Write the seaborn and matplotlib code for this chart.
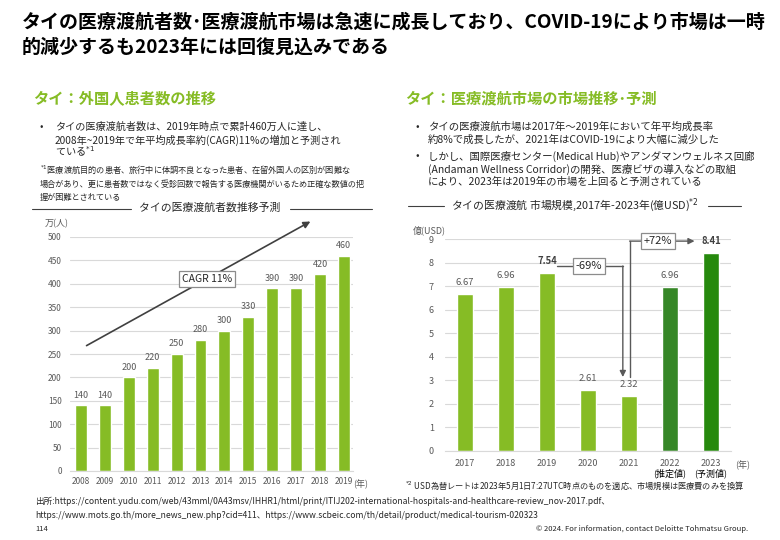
import numpy as np
import matplotlib.pyplot as plt
from matplotlib.lines import Line2D
import seaborn as sns

# data: left chart (foreign patients, 万人)
patient_years = ['2008', '2009', '2010', '2011', '2012', '2013',
                 '2014', '2015', '2016', '2017', '2018', '2019']
patient_vals = [140, 140, 200, 220, 250, 280, 300, 330, 390, 390, 420, 460]

# data: right chart (market size, 億USD)
market_years = ['2017', '2018', '2019', '2020', '2021', '2022', '2023']
market_notes = ['', '', '', '', '', '(推定値)', '(予測値)']
market_vals = [6.67, 6.96, 7.54, 2.61, 2.32, 6.96, 8.41]
market_colors = ['#86BC25', '#86BC25', '#86BC25', '#86BC25', '#86BC25',
                 '#368727', '#26890D']

sns.set_style('white')
plt.rcParams['font.family'] = ['Noto Sans CJK JP', 'DejaVu Sans']

W, H = 780, 540
fig = plt.figure(figsize=(7.8, 5.4), dpi=100)

def fx(px):
    return px / W

def fy(py):
    return 1 - py / H

def ftext(px, py, s, **kw):
    kw.setdefault('va', 'center')
    fig.text(fx(px), fy(py), s, **kw)

def hline(x0, x1, py, color='#404040', lw=0.8):
    fig.add_artist(Line2D([fx(x0), fx(x1)], [fy(py), fy(py)],
                          color=color, lw=lw))

GREEN = '#86BC25'
GRAY = '#595959'

# ---- headline ----
ftext(22, 22, 'タイの医療渡航者数･医療渡航市場は急速に成長しており、COVID-19により市場は一時',
      fontsize=13.7, fontweight='bold', color='black')
ftext(22, 47, '的減少するも2023年には回復見込みである',
      fontsize=13.7, fontweight='bold', color='black')

# ---- section headings ----
ftext(33, 98, 'タイ：外国人患者数の推移', fontsize=11, fontweight='bold', color=GREEN)
ftext(405, 98, 'タイ：医療渡航市場の市場推移･予測', fontsize=11, fontweight='bold', color=GREEN)

# ---- left bullets ----
ftext(40, 127, '•', fontsize=7.3)
ftext(55, 127, 'タイの医療渡航者数は、2019年時点で累計460万人に達し、', fontsize=7.3)
ftext(55, 140, '2008年~2019年で年平均成長率約(CAGR)11%の増加と予測され', fontsize=7.3)
ftext(55, 152, 'ている$^{*1}$', fontsize=7.3)
ftext(40, 170, '$^{*1}$医療渡航目的の患者、旅行中に体調不良となった患者、在留外国人の区別が困難な', fontsize=5.9)
ftext(40, 184, '場合があり、更に患者数ではなく受診回数で報告する医療機関がいるため正確な数値の把', fontsize=5.9)
ftext(40, 197, '握が困難とされている', fontsize=5.9)

ftext(210, 208, 'タイの医療渡航者数推移予測', fontsize=7.8, ha='center')
hline(32, 131, 209)
hline(290, 372, 209)

# ---- right bullets ----
ftext(415, 127, '•', fontsize=7.5)
ftext(428, 127, 'タイの医療渡航市場は2017年～2019年において年平均成長率', fontsize=7.5)
ftext(428, 140, '約8%で成長したが、2021年はCOVID-19により大幅に減少した', fontsize=7.5)
ftext(415, 156, '•', fontsize=7.5)
ftext(428, 156, 'しかし、国際医療センター(Medical Hub)やアンダマンウェルネス回廊', fontsize=7.5)
ftext(428, 169, '(Andaman Wellness Corridor)の開発、医療ビザの導入などの取組', fontsize=7.5)
ftext(428, 182, 'により、2023年は2019年の市場を上回ると予測されている', fontsize=7.5)

ftext(575, 205, 'タイの医療渡航 市場規模,2017年-2023年(億USD)$^{*2}$', fontsize=7.8, ha='center')
hline(408, 444, 206)
hline(708, 741, 206)

# ---- left chart ----
axL = fig.add_axes([fx(70), fy(471), fx(353) - fx(70), fy(237) - fy(471)])
sns.barplot(x=patient_years, y=patient_vals, color=GREEN, width=0.5,
            saturation=1, ax=axL)
axL.set_ylim(0, 500)
axL.set_xlim(-0.46, 11.38)
axL.set_yticks(np.arange(0, 501, 50))
axL.yaxis.grid(True, color='#d9d9d9', lw=0.8)
axL.set_axisbelow(True)
for s in ['top', 'right', 'left']:
    axL.spines[s].set_visible(False)
axL.spines['bottom'].set_color('#d9d9d9')
axL.tick_params(axis='both', length=0, labelsize=6, labelcolor=GRAY, pad=4)
axL.tick_params(axis='y', pad=6)
axL.bar_label(axL.containers[0], fontsize=6.5, color=GRAY, padding=4)
axL.set_xlabel('')
axL.set_ylabel('')
axL.annotate('', xy=(9.7, 536), xytext=(0.13, 265), annotation_clip=False,
             arrowprops=dict(arrowstyle='-|>', color='#404040', lw=1.2,
                             mutation_scale=10))
axL.text(5.27, 410, 'CAGR 11%', fontsize=7.5, ha='center', va='center',
         bbox=dict(boxstyle='square,pad=0.3', fc='white', ec='#8c8c8c', lw=0.9))
ftext(45, 224, '万(人)', fontsize=6.5, color=GRAY)
ftext(353, 484, '(年)', fontsize=6.5, color=GRAY)

# ---- right chart ----
axR = fig.add_axes([fx(445), fy(451), fx(731) - fx(445), fy(239) - fy(451)])
sns.barplot(x=market_years, y=market_vals, hue=market_years,
            palette=market_colors, legend=False, width=0.39,
            saturation=1, ax=axR)
axR.set_ylim(0, 9)
axR.set_xlim(-0.49, 6.49)
axR.set_yticks(np.arange(0, 10, 1))
axR.yaxis.grid(True, color='#d9d9d9', lw=0.8)
axR.set_axisbelow(True)
for s in ['top', 'right', 'left']:
    axR.spines[s].set_visible(False)
axR.spines['bottom'].set_color('#d9d9d9')
axR.tick_params(axis='both', length=0, labelsize=6.5, labelcolor=GRAY)
axR.tick_params(axis='y', pad=8)
axR.tick_params(axis='x', pad=6)
for i, note in enumerate(market_notes):
    if note:
        axR.text(i, -0.95, note, fontsize=6.5, ha='center', va='center',
                 color='black')
axR.set_xlabel('')
axR.set_ylabel('')
for i, c in enumerate(axR.containers):
    bold = i in (2, 6)
    axR.bar_label(c, fmt='%.2f', fontsize=6.8, padding=5,
                  color='#404040' if bold else GRAY,
                  fontweight='bold' if bold else 'normal')

# -69% bracket
y_top = 7.85
axR.plot([2.24, 3.85], [y_top, y_top], color='#595959', lw=1)
axR.annotate('', xy=(3.85, 3.14), xytext=(3.85, y_top + 0.005),
             arrowprops=dict(arrowstyle='-|>', color='#595959', lw=1,
                             mutation_scale=9, shrinkA=0, shrinkB=0))
axR.text(3.02, y_top, '-69%', fontsize=8, ha='center', va='center',
         bbox=dict(boxstyle='square,pad=0.25', fc='white', ec='#8c8c8c', lw=0.9))
# +72% bracket
y_up = 8.91
axR.plot([4.02, 4.02], [3.14, y_up], color='#595959', lw=1, clip_on=False)
axR.annotate('', xy=(5.6, y_up), xytext=(4.015, y_up), annotation_clip=False,
             arrowprops=dict(arrowstyle='-|>', color='#595959', lw=1,
                             mutation_scale=9, shrinkA=0, shrinkB=0))
axR.text(4.71, y_up, '+72%', fontsize=8, ha='center', va='center',
         bbox=dict(boxstyle='square,pad=0.25', fc='white', ec='#8c8c8c', lw=0.9))
ftext(413, 230, '億(USD)', fontsize=6.5, color=GRAY)
ftext(735, 465, '(年)', fontsize=6.5, color=GRAY)

# ---- footnotes ----
ftext(405, 486, '$^{*2}$ USD為替レートは2023年5月1日7:27UTC時点のものを適応、市場規模は医療費のみを換算',
      fontsize=5.9)
ftext(35, 501, '出所:https://content.yudu.com/web/43mml/0A43msv/IHHR1/html/print/ITIJ202-international-hospitals-and-healthcare-review_nov-2017.pdf、',
      fontsize=6.2)
ftext(35, 515, 'https://www.mots.go.th/more_news_new.php?cid=411、https://www.scbeic.com/th/detail/product/medical-tourism-020323',
      fontsize=6.2)
ftext(35, 529, '114', fontsize=5.5)
ftext(748, 529, '© 2024. For information, contact Deloitte Tohmatsu Group.',
      fontsize=5.5, ha='right')

fig.savefig('out.png', dpi=100)
